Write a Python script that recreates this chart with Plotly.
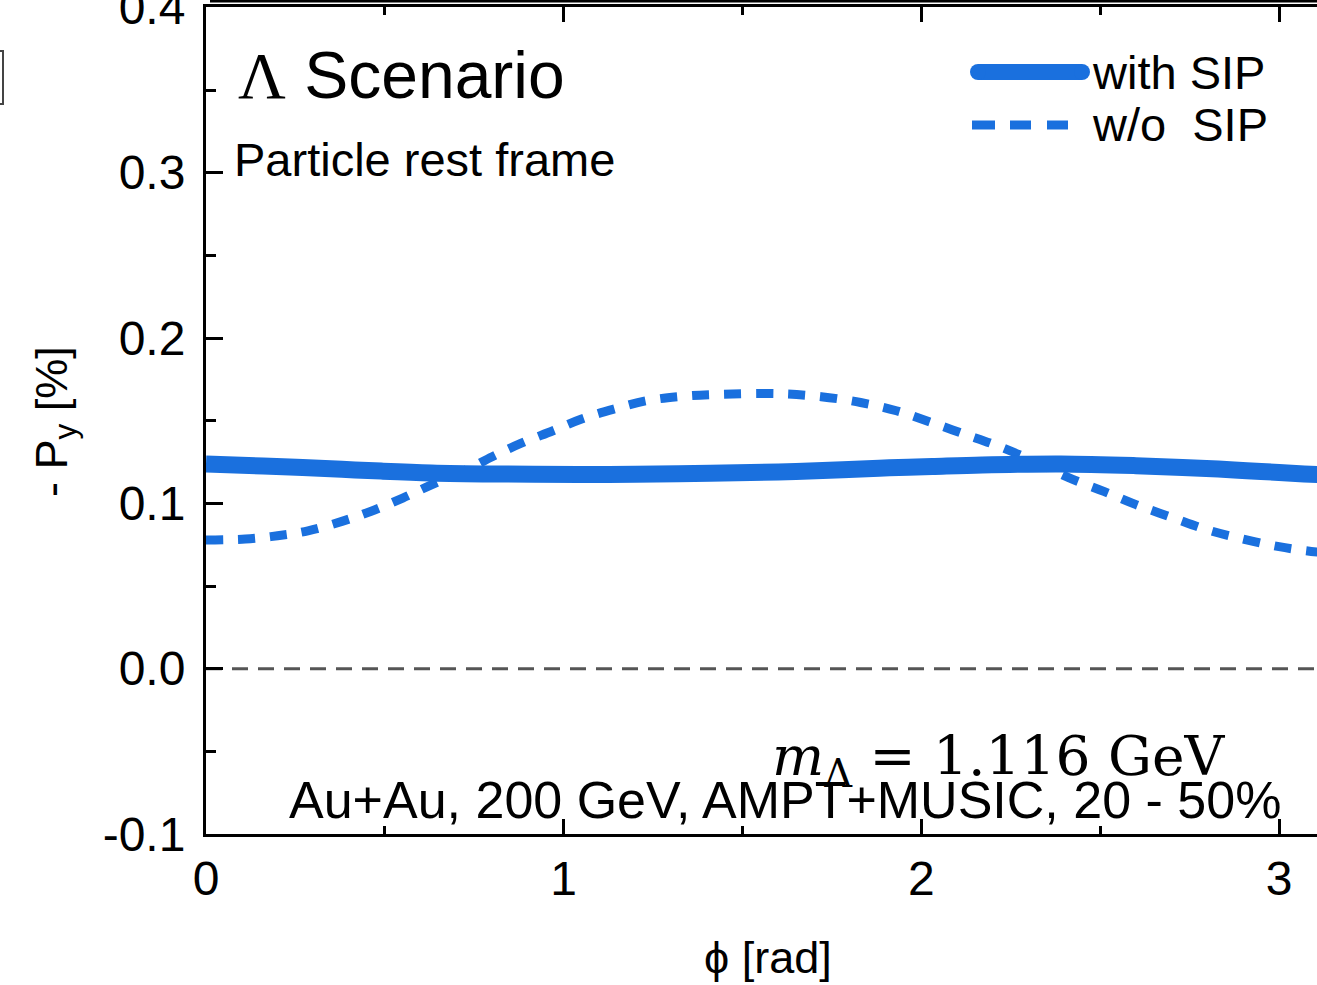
import plotly.graph_objects as go

# Lambda polarization -P_y versus azimuthal angle phi
phi_with = [0.0, 0.16, 0.27, 0.38, 0.49, 0.63, 0.80, 1.04, 1.20, 1.41, 1.60, 1.78,
            1.91, 2.03, 2.17, 2.39, 2.60, 2.73, 2.83, 2.91, 3.00, 3.07, 3.14]
py_with = [0.1238, 0.1226, 0.1217, 0.1206, 0.1195, 0.1184, 0.1178, 0.1175, 0.1176,
           0.1182, 0.1190, 0.1203, 0.1215, 0.1223, 0.1232, 0.1238, 0.1228, 0.1217,
           0.1207, 0.1197, 0.1187, 0.1178, 0.1170]

phi_wo = [0.0, 0.11, 0.20, 0.285, 0.38, 0.46, 0.55, 0.63, 0.73, 0.80, 0.88, 0.97,
          1.05, 1.14, 1.23, 1.32, 1.41, 1.60, 1.72, 1.83, 1.93, 2.02, 2.12, 2.22,
          2.32, 2.41, 2.51, 2.60, 2.70, 2.80, 2.90, 3.00, 3.09, 3.14]
py_wo = [0.0778, 0.0784, 0.0804, 0.0834, 0.0891, 0.0951, 0.1032, 0.1112, 0.1205,
         0.1282, 0.1362, 0.1439, 0.1510, 0.1570, 0.1620, 0.1645, 0.1657, 0.1663,
         0.1645, 0.1610, 0.1560, 0.1495, 0.1419, 0.1342, 0.1250, 0.1157, 0.1072,
         0.0992, 0.0915, 0.0839, 0.0784, 0.0738, 0.0709, 0.0700]

x_ticks = [0, 1, 2, 3]
y_ticks = [-0.1, 0.0, 0.1, 0.2, 0.3, 0.4]
y_ticklabels = ["-0.1", "0.0", "0.1", "0.2", "0.3", "0.4"]

BLUE = "#1A70DE"
SANS = "Liberation Sans, Arial, sans-serif"
SERIF = "Liberation Serif, Times New Roman, serif"
WIDE_SERIF = "DejaVu Serif, serif"

W, H = 1317, 985
L, R, T, B = 206, 0, 7, 151
PW, PH = W - L - R, H - T - B


def px(x):
    return (x - L) / PW


def py(y):
    return (H - B - y) / PH


fig = go.Figure()
fig.add_trace(go.Scatter(x=phi_wo, y=py_wo, mode="lines", name="w/o SIP",
                         line=dict(color=BLUE, width=9, dash="17px,15px", shape="spline"),
                         showlegend=False))
fig.add_trace(go.Scatter(x=phi_with, y=py_with, mode="lines", name="with SIP",
                         line=dict(color=BLUE, width=17, shape="spline"),
                         showlegend=False))

axis_common = dict(showgrid=False, zeroline=False, showline=True, linecolor="black",
                   linewidth=3, ticks="inside", tickcolor="black", tickwidth=3,
                   ticklabeloverflow="allow",
                   tickfont=dict(family=SANS, size=48, color="black"))

fig.update_xaxes(range=[0, 3.106], tickvals=x_ticks, ticklen=15, mirror="ticks",
                 ticklabelstandoff=0,
                 minor=dict(dtick=0.5, ticks="inside", ticklen=8, tickwidth=3,
                            tickcolor="black", showgrid=False),
                 **axis_common)
fig.update_yaxes(range=[-0.1, 0.4002], tickvals=y_ticks, ticktext=y_ticklabels,
                 ticklen=17, ticklabelstandoff=8,
                 minor=dict(dtick=0.05, tick0=0, ticks="inside", ticklen=10,
                            tickwidth=3, tickcolor="black", showgrid=False),
                 **axis_common)

shapes = [
    # zero reference line
    dict(type="line", xref="paper", yref="y", x0=0, x1=1, y0=0, y1=0,
         line=dict(color="#555555", width=3, dash="16px,10px"), layer="below"),
    # frame line above the top axis
    dict(type="line", xref="paper", yref="paper", x0=px(210), x1=1.01,
         y0=py(1), y1=py(1), line=dict(color="black", width=3)),
    # bracket edge at far left
    dict(type="path", xref="paper", yref="paper",
         path=f"M {px(0)},{py(51)} L {px(3)},{py(51)} L {px(3)},{py(104)} L {px(0)},{py(104)}",
         line=dict(color="#444444", width=2)),
    # legend keys
    dict(type="line", xref="paper", yref="paper", x0=px(978), x1=px(1082),
         y0=py(72), y1=py(72), line=dict(color=BLUE, width=16)),
    dict(type="circle", xref="paper", yref="paper", x0=px(970), x1=px(986),
         y0=py(80), y1=py(64), fillcolor=BLUE, line=dict(width=0)),
    dict(type="circle", xref="paper", yref="paper", x0=px(1074), x1=px(1090),
         y0=py(80), y1=py(64), fillcolor=BLUE, line=dict(width=0)),
]
for a, b in [(972, 995), (1010, 1031), (1047, 1068)]:
    shapes.append(dict(type="line", xref="paper", yref="paper", x0=px(a), x1=px(b),
                       y0=py(125), y1=py(125), line=dict(color=BLUE, width=9)))
fig.update_layout(shapes=shapes)


def label(text, x, y, size, xanchor="left", yanchor="middle", family=SANS, angle=0):
    fig.add_annotation(text=text, xref="paper", yref="paper", x=px(x), y=py(y),
                       xanchor=xanchor, yanchor=yanchor, showarrow=False,
                       textangle=angle,
                       font=dict(family=family, size=size, color="black"))


label(f"<span style='font-family:{SERIF}'>Λ</span> Scenario", 236, 75, 66)
label("Particle rest frame", 232, 160, 47)
label("with SIP", 1090, 72, 47)
label("w/o\u00a0\u00a0SIP", 1090, 125, 47)
label("<i>m</i><sub>Λ</sub> = 1.116 GeV", 770, 760, 55, family=WIDE_SERIF)
label("Au+Au, 200 GeV, AMPT+MUSIC, 20 - 50%", 785, 800, 52, xanchor="center")
label("ϕ [rad]", 768, 958, 45, xanchor="center")
label("- P<sub>y</sub> [%]", 55, 422, 45, xanchor="center", angle=-90)

fig.update_layout(width=W, height=H, margin=dict(l=L, r=R, t=T, b=B, autoexpand=False),
                  plot_bgcolor="white", paper_bgcolor="white", showlegend=False)

fig.write_html("out.html")
